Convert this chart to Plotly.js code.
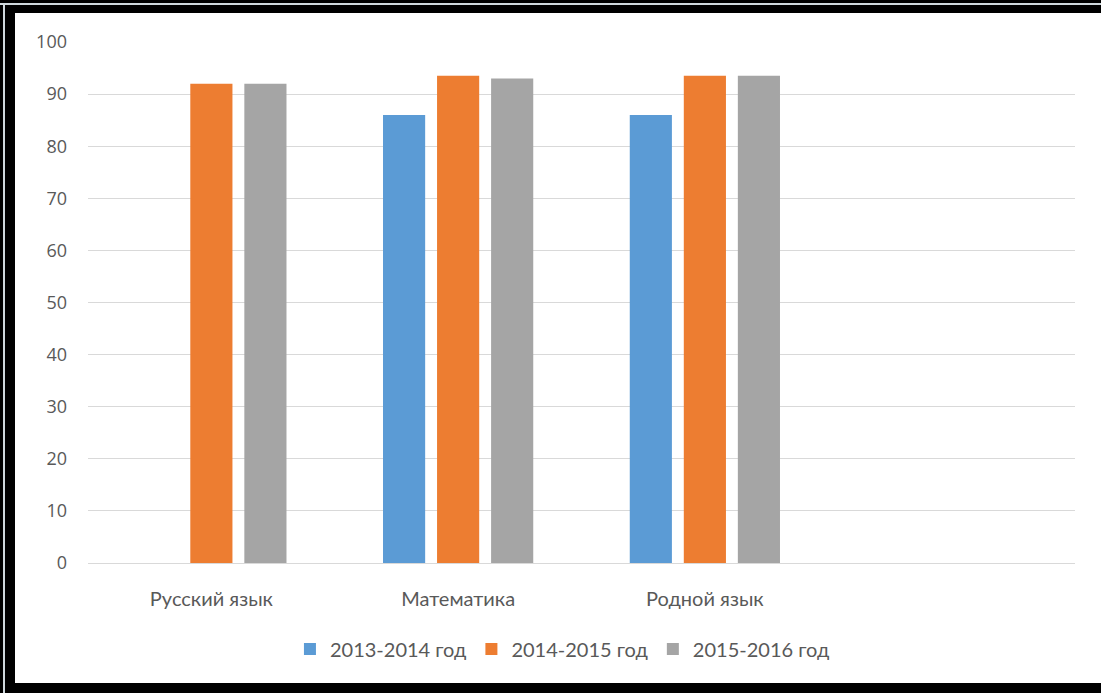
<!DOCTYPE html>
<html>
<head>
<meta charset="utf-8">
<script src="https://cdn.plot.ly/plotly-3.0.1.min.js"></script>
<style>
html,body{margin:0;padding:0;background:#000;width:1101px;height:693px;overflow:hidden;}
#frame{position:absolute;left:0;top:3px;width:1101px;height:2px;background:#cfd8dc;}
#frameL{position:absolute;left:3px;top:3px;width:2px;height:690px;background:#cfd8dc;}
#chart{position:absolute;left:15px;top:13px;width:1086px;height:670px;background:#fff;}
</style>
</head>
<body>
<div id="frame"></div>
<div id="frameL"></div>
<div id="chart"></div>
<script>
const categories = ["Русский язык", "Математика", "Родной язык", " "];
const seriesNames = ["2013-2014 год", "2014-2015 год", "2015-2016 год"];
const values2013 = [null, 86, 86, null];
const values2014 = [92, 93.5, 93.5, null];
const values2015 = [92, 93, 93.5, null];
const colors = ["#5B9BD5", "#ED7D31", "#A5A5A5"];
const allValues = [values2013, values2014, values2015];
const yTicks = [0, 10, 20, 30, 40, 50, 60, 70, 80, 90, 100];

const traces = allValues.map((v, i) => ({
  type: "bar",
  name: seriesNames[i],
  x: categories,
  y: v,
  marker: {color: colors[i]},
  hoverinfo: "none"
}));

const layout = {
  width: 1086,
  height: 670,
  paper_bgcolor: "#ffffff",
  plot_bgcolor: "#ffffff",
  margin: {l: 73, r: 26, t: 29, b: 120},
  barmode: "group",
  bargap: 0.343,
  bargroupgap: 0.22,
  font: {family: "Open Sans, sans-serif", color: "#595959", size: 16},
  xaxis: {
    type: "category",
    categoryorder: "array",
    categoryarray: categories,
    range: [-0.5, 3.5],
    showgrid: false,
    showline: false,
    ticks: "",
    ticklabelstandoff: 22,
    tickfont: {family: "Lato, sans-serif", size: 20, color: "#595959"}
  },
  yaxis: {
    range: [0, 100],
    tickvals: yTicks,
    ticktext: yTicks.map(String),
    showgrid: true,
    gridcolor: "#D9D9D9",
    gridwidth: 1,
    zeroline: true,
    zerolinecolor: "#D9D9D9",
    zerolinewidth: 1,
    showline: false,
    ticks: "",
    ticklabelstandoff: 20,
    tickfont: {family: "Open Sans, sans-serif", size: 18, color: "#595959"}
  },
  legend: {
    orientation: "h",
    x: 0.4807,
    xanchor: "center",
    y: -0.165,
    yanchor: "middle",
    font: {family: "Lato, sans-serif", size: 20, color: "#595959"},
    itemwidth: 30,
    traceorder: "normal"
  },
  showlegend: true
};

Plotly.newPlot("chart", traces, layout, {staticPlot: true, displayModeBar: false});
</script>
</body>
</html>
